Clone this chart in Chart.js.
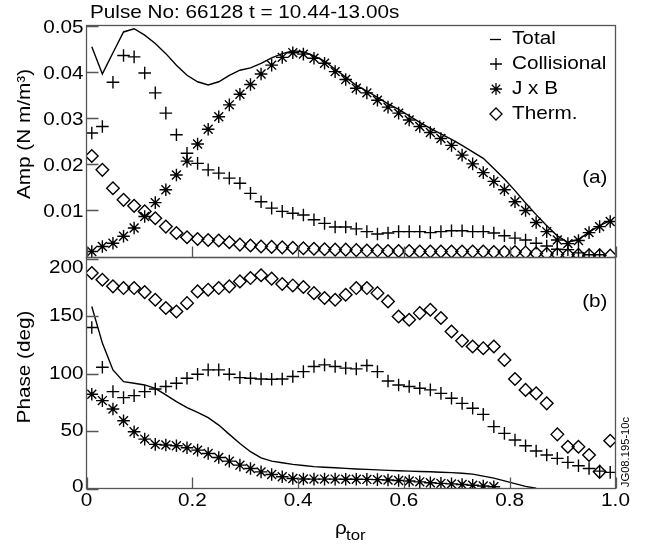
<!DOCTYPE html>
<html>
<head>
<meta charset="utf-8">
<script src="https://cdn.jsdelivr.net/npm/chart.js@4.4.1/dist/chart.umd.min.js"></script>
<style>
  body { margin: 0; background: #fff; }
  #wrap { position: relative; width: 645px; height: 548px; }
  #wrap canvas { position: absolute; left: 0; top: 0; }
</style>
</head>
<body>
<div id="wrap">
  <canvas id="ampChart" width="645" height="548"></canvas>
  <canvas id="phaseChart" width="645" height="548"></canvas>
</div>
<script>
// radial grid (rho_tor) the profiles are sampled on
const rho = [0.01, 0.03, 0.05, 0.07, 0.09, 0.11, 0.13, 0.15, 0.17, 0.19,
             0.21, 0.23, 0.25, 0.27, 0.29, 0.31, 0.33, 0.35, 0.37, 0.39,
             0.41, 0.43, 0.45, 0.47, 0.49, 0.51, 0.53, 0.55, 0.57, 0.59,
             0.61, 0.63, 0.65, 0.67, 0.69, 0.71, 0.73, 0.75, 0.77, 0.79,
             0.81, 0.83, 0.85, 0.87, 0.89, 0.91, 0.93, 0.95, 0.97, 0.99];

// (a) amplitude, N m/m^3
const ampTotal = [0.0454, 0.0395, 0.0441, 0.0486, 0.0493, 0.0479, 0.0461, 0.0439, 0.0414, 0.0392,
                  0.0378, 0.0371, 0.0378, 0.0392, 0.0403, 0.0408, 0.0418, 0.0430, 0.0439, 0.0445,
                  0.0443, 0.0434, 0.0423, 0.0405, 0.0388, 0.0370, 0.0358, 0.0344, 0.0330, 0.0318,
                  0.0304, 0.0290, 0.0277, 0.0265, 0.0253, 0.0240, 0.0226, 0.0212, 0.0190, 0.0167,
                  0.0142, 0.0115, 0.0090, 0.0066, 0.0044, 0.0030, 0.0036, 0.0052, 0.0066, 0.0077];
const ampColl  = [0.0267, 0.0281, 0.0377, 0.0435, 0.0432, 0.0397, 0.0354, 0.0310, 0.0263, 0.0223,
                  0.0201, 0.0187, 0.0180, 0.0169, 0.0158, 0.0136, 0.0118, 0.0104, 0.0097, 0.0093,
                  0.0089, 0.0079, 0.0071, 0.0063, 0.0063, 0.0059, 0.0053, 0.0048, 0.0050, 0.0053,
                  0.0053, 0.0053, 0.0051, 0.0053, 0.0055, 0.0055, 0.0053, 0.0053, 0.0050, 0.0044,
                  0.0039, 0.0035, 0.0028, 0.0022, 0.0015, 0.0014, 0.0007, 0.0003, 0.0003, null];
const ampJxB   = [0.0010, 0.0021, 0.0028, 0.0043, 0.0061, 0.0086, 0.0116, 0.0144, 0.0176, 0.0206,
                  0.0243, 0.0275, 0.0302, 0.0328, 0.0351, 0.0372, 0.0395, 0.0414, 0.0431, 0.0441,
                  0.0438, 0.0429, 0.0418, 0.0400, 0.0383, 0.0364, 0.0354, 0.0338, 0.0323, 0.0310,
                  0.0295, 0.0281, 0.0268, 0.0255, 0.0240, 0.0219, 0.0200, 0.0181, 0.0162, 0.0144,
                  0.0118, 0.0099, 0.0073, 0.0053, 0.0035, 0.0027, 0.0034, 0.0051, 0.0064, 0.0075];
const ampTherm = [0.0217, 0.0187, 0.0147, 0.0122, 0.0109, 0.0097, 0.0082, 0.0064, 0.0050, 0.0041,
                  0.0037, 0.0035, 0.0034, 0.0030, 0.0025, 0.0023, 0.0021, 0.0020, 0.0019, 0.0018,
                  0.0017, 0.0016, 0.0015, 0.0014, 0.0014, 0.0013, 0.0012, 0.0012, 0.0011, 0.0011,
                  0.0011, 0.0010, 0.0010, 0.0010, 0.0010, 0.0010, 0.0010, 0.0010, 0.0009, 0.0009,
                  0.0009, 0.0008, 0.0006, 0.0005, 0.0004, 0.0003, 0.0003, 0.0002, 0.0002, 0.0001];

// (b) phase, deg
const phaseTotal = [158.4, 126.5, 103.2, 93.0, 91.6, 90.1, 87.2, 81.4, 75.6, 70.3,
                    66.3, 61.6, 55.2, 47.1, 39.2, 32.0, 26.7, 23.8, 22.4, 21.0,
                    20.0, 19.0, 18.5, 18.0, 17.5, 17.0, 16.6, 16.2, 15.8, 15.4,
                    15.1, 14.8, 14.6, 14.2, 13.8, 13.3, 12.5, 10.8, 9.0, 6.6,
                    4.3, 1.8, 0.2, null, null, null, null, null, null, null];
const phaseColl  = [140.1, 105.5, 84.3, 79.1, 80.8, 84.3, 86.6, 88.7, 91.6, 95.9,
                    99.4, 103.2, 103.2, 99.4, 96.5, 95.9, 95.3, 95.1, 95.3, 97.4,
                    101.7, 106.1, 107.6, 106.1, 104.7, 104.1, 107.0, 101.7, 93.6, 90.1,
                    88.7, 87.2, 85.8, 82.8, 78.5, 74.1, 69.8, 64.5, 53.8, 48.0,
                    42.2, 37.2, 32.6, 29.1, 26.2, 22.7, 19.8, 17.4, 15.1, 14.0];
const phaseJxB   = [82.0, 76.5, 69.2, 59.0, 49.4, 43.0, 38.4, 37.8, 37.2, 35.5,
                    33.4, 30.5, 27.0, 23.8, 20.3, 17.4, 14.5, 12.2, 10.2, 8.7,
                    8.3, 8.2, 8.2, 8.2, 8.1, 8.0, 7.9, 7.7, 7.4, 7.0,
                    6.5, 5.8, 5.0, 4.5, 4.0, 3.5, 2.8, 2.2, 1.5, null,
                    null, null, null, null, null, null, null, null, null, null];
const phaseTherm = [187.5, 181.7, 175.9, 174.4, 174.4, 170.9, 164.2, 157.0, 154.0, 161.3,
                    171.5, 173.0, 174.4, 175.9, 180.2, 183.1, 185.5, 182.6, 177.9, 176.7,
                    175.3, 170.0, 165.7, 164.2, 168.6, 174.4, 174.4, 170.0, 162.8, 149.7,
                    146.8, 152.6, 155.5, 148.3, 136.6, 128.5, 123.5, 122.1, 123.5, 111.9,
                    95.3, 85.8, 82.8, 74.1, 47.1, 36.3, 36.3, 29.1, 14.5, 41.6];

// tick values and labels
const xTicks = [0, 0.2, 0.4, 0.6, 0.8, 1.0];
const xTickLabels = ['0', '0.2', '0.4', '0.6', '0.8', '1.0'];
const ampTicks = [0.01, 0.02, 0.03, 0.04, 0.05];
const ampTickLabels = ['0.01', '0.02', '0.03', '0.04', '0.05'];
const phaseTicks = [0, 50, 100, 150, 200];
const phaseTickLabels = ['0', '50', '100', '150', '200'];

const legendNames = ['Total', 'Collisional', 'J x B', 'Therm.'];
const legendStyles = ['line', 'cross', 'star', 'rectRot'];

const FRAME = '#555';
const FONT = '"Liberation Sans", Arial, sans-serif';
const STRETCH = 1.12;   // the original lettering is a bit wide

function pts(xs, ys) {
  return xs.map((x, i) => ({ x: x, y: ys[i] })).filter(p => p.y !== null);
}

function txt(ctx, s, x, y, align, size, rot, baseline) {
  ctx.save();
  ctx.translate(x, y);
  if (rot) ctx.rotate(rot);
  ctx.scale(STRETCH, 1);
  ctx.font = size + 'px ' + FONT;
  ctx.textAlign = align;
  ctx.textBaseline = baseline || 'middle';
  ctx.fillStyle = '#000';
  ctx.fillText(s, 0, 0);
  ctx.restore();
}

function lineSet(label, data) {
  return { label: label, data: data, showLine: true, borderColor: '#000', borderWidth: 1.4,
           pointRadius: 0, tension: 0, fill: false };
}
function markSet(label, data, style) {
  return { label: label, data: data, showLine: false, pointStyle: style, pointRadius: 6.3,
           borderColor: '#000', backgroundColor: 'rgba(0,0,0,0)', pointBorderWidth: 1.4 };
}

// frame, inward ticks and all the lettering of one panel
function panelDecor(cfg) {
  return {
    id: 'panelDecor',
    afterDraw(chart) {
      const ctx = chart.ctx;
      const a = chart.chartArea;
      const xs = chart.scales.x, ys = chart.scales.y;
      ctx.save();
      ctx.strokeStyle = FRAME;
      ctx.lineWidth = 1.3;
      ctx.strokeRect(a.left, a.top, a.right - a.left, a.bottom - a.top);
      ctx.beginPath();
      xTicks.forEach(v => {
        const px = Math.round(xs.getPixelForValue(v)) + 0.5;
        ctx.moveTo(px, a.bottom);
        ctx.lineTo(px, a.bottom - 11);
      });
      cfg.yTicks.forEach(v => {
        const py = Math.round(ys.getPixelForValue(v)) + 0.5;
        ctx.moveTo(a.left, py);
        ctx.lineTo(a.left + 12, py);
      });
      ctx.stroke();

      cfg.yTicks.forEach((v, i) => {
        let py = ys.getPixelForValue(v) + cfg.labelShift;
        py = Math.min(Math.max(py, a.top + cfg.labelGap), a.bottom - 2);
        txt(ctx, cfg.yLabels[i], a.left - 3, py, 'right', 18.5);
      });

      txt(ctx, cfg.title, 25, (a.top + a.bottom) / 2 + cfg.titleShift, 'center', 18.5, -Math.PI / 2);
      txt(ctx, cfg.tag, a.right - 8, a.top + cfg.tagY, 'right', 18.5);
      if (cfg.extra) cfg.extra(ctx, a, xs);
      ctx.restore();
    }
  };
}

const ampChart = new Chart(document.getElementById('ampChart'), {
  type: 'scatter',
  data: {
    datasets: [
      lineSet('Total', pts(rho, ampTotal)),
      markSet('Collisional', pts(rho, ampColl), 'cross'),
      markSet('J x B', pts(rho, ampJxB), 'star'),
      markSet('Therm.', pts(rho, ampTherm), 'rectRot')
    ]
  },
  options: {
    responsive: false,
    animation: false,
    layout: { padding: { left: 86.5, right: 29.5, top: 25.5, bottom: 290.5 } },
    plugins: { legend: { display: false }, tooltip: { enabled: false } },
    scales: {
      x: { type: 'linear', min: 0, max: 1, display: false },
      y: { type: 'linear', min: -0.0003, max: 0.05, display: false }
    }
  },
  plugins: [panelDecor({
    yTicks: ampTicks, yLabels: ampTickLabels, labelShift: 2, labelGap: 2.5,
    title: 'Amp (N m/m\u00b3)', titleShift: -7.5, tag: '(a)', tagY: 152,
    extra: (ctx, a) => {
      txt(ctx, 'Pulse No: 66128 t = 10.44-13.00s', 90, 13, 'left', 18.5);
      // legend
      legendNames.forEach((name, i) => {
        const y = 39 + i * 25;
        ctx.strokeStyle = '#000';
        ctx.fillStyle = 'rgba(0,0,0,0)';
        ctx.lineWidth = 1.3;
        if (legendStyles[i] === 'line') {
          ctx.beginPath();
          ctx.moveTo(490, y + 0.5);
          ctx.lineTo(501, y + 0.5);
          ctx.stroke();
        } else {
          Chart.helpers.drawPoint(ctx, { pointStyle: legendStyles[i], radius: 6, borderWidth: 1.3 }, 496, y);
        }
        txt(ctx, name, 512, y, 'left', 18.5);
      });
    }
  })]
});

const phaseChart = new Chart(document.getElementById('phaseChart'), {
  type: 'scatter',
  data: {
    datasets: [
      lineSet('Total', pts(rho, phaseTotal)),
      markSet('Collisional', pts(rho, phaseColl), 'cross'),
      markSet('J x B', pts(rho, phaseJxB), 'star'),
      markSet('Therm.', pts(rho, phaseTherm), 'rectRot')
    ]
  },
  options: {
    responsive: false,
    animation: false,
    layout: { padding: { left: 86.5, right: 29.5, top: 257.5, bottom: 59.5 } },
    plugins: { legend: { display: false }, tooltip: { enabled: false } },
    scales: {
      x: { type: 'linear', min: 0, max: 1, display: false },
      y: { type: 'linear', min: 0, max: 201, display: false }
    }
  },
  plugins: [panelDecor({
    yTicks: phaseTicks, yLabels: phaseTickLabels, labelShift: 0, labelGap: 10.5,
    title: 'Phase (deg)', titleShift: -6, tag: '(b)', tagY: 44,
    extra: (ctx, a, xs) => {
      xTicks.forEach((v, i) => {
        txt(ctx, xTickLabels[i], xs.getPixelForValue(v), 501, 'center', 18.5);
      });
      // axis title: rho with "tor" subscript
      txt(ctx, '\u03c1', 335, 534, 'left', 18.5, 0, 'alphabetic');
      txt(ctx, 'tor', 346, 540, 'left', 15, 0, 'alphabetic');
      txt(ctx, 'JG08.195-10c', 626, 452, 'center', 10, -Math.PI / 2);
    }
  })]
});
</script>
</body>
</html>
